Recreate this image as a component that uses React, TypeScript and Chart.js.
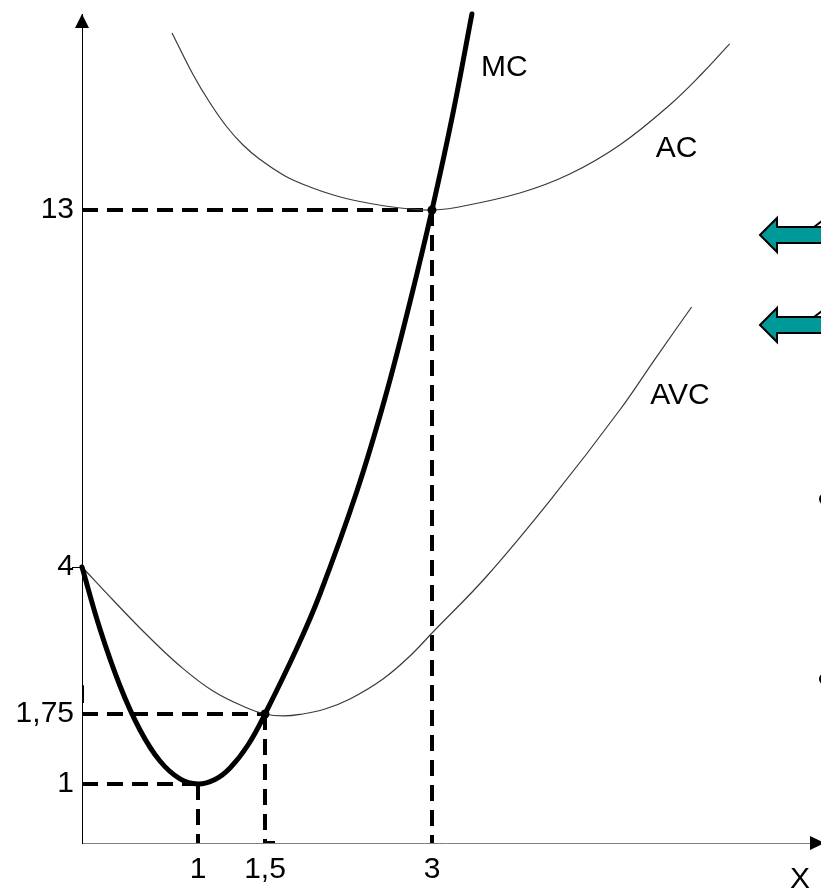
import React, { useEffect, useRef } from 'react';
import { Chart, LinearScale, registerables } from 'chart.js';

// Cost curves: output quantity (x) against cost (y)
const mcX = [0, 0.155, 0.328, 0.5, 0.672, 0.845, 1, 1.127, 1.239, 1.373, 1.5, 1.787, 1.994, 2.326, 2.578, 2.802, 3, 3.189, 3.359];
const mcY = [4, 3.051, 2.179, 1.579, 1.246, 1.054, 1, 1.048, 1.171, 1.418, 1.75, 2.76, 3.587, 5.916, 8.26, 10.68, 13, 15.445, 17.941];

const avcX = [0, 0.267, 0.56, 0.845, 1.112, 1.366, 1.5, 1.662, 1.814, 2.039, 2.263, 2.56, 2.802, 3.009, 3.494, 4.087, 4.689, 5.012, 5.335];
const avcY = [4, 3.495, 2.959, 2.485, 2.102, 1.842, 1.75, 1.729, 1.745, 1.827, 1.98, 2.286, 2.638, 3.005, 3.862, 5.765, 7.958, 9.268, 10.554];

const acX = [0.776, 0.957, 1.09, 1.216, 1.336, 1.463, 1.68, 1.904, 2.129, 2.353, 2.578, 2.802, 3, 3.189, 3.79, 4.239, 4.689, 5.138, 5.434, 5.677];
const acY = [17.462, 16.416, 15.697, 15.092, 14.639, 14.273, 13.857, 13.58, 13.366, 13.214, 13.101, 13.025, 13, 13.05, 13.429, 13.907, 14.639, 15.647, 16.453, 17.185];

// Key points: MC minimum, shutdown point (MC = AVC min), break-even point (MC = AC min)
const mcMin = { x: 1, y: 1 };
const shutdown = { x: 1.5, y: 1.75 };
const breakEven = { x: 3, y: 13 };

// Axis ticks
const xTicks = [1, 1.5, 3];
const xTickLabels = ['1', '1,5', '3'];
const yTicks = [1, 1.75, 4, 13];
const yTickLabels = ['1', '1,75', '4', '13'];

// Curve names and where they sit
const curveNames = ['MC', 'AC', 'AVC'];
const curveNameX = [3.65, 5.2, 5.23];
const curveNameY = [16.58, 14.54, 8.31];

// Axis break points (not drawn to scale): value stops and the length given to each stretch
const xStops = [0, 1, 1.5, 3, 6.4];
const xSpans = [116, 67, 167, 378];
const yStops = [0, 1, 1.75, 4, 13, 17.94];
const ySpans = [59, 70, 147, 357, 196];

function makeBrokenScale(id: string, stops: number[], spans: number[]) {
  const total = spans.reduce((a, b) => a + b, 0);
  const toDecimal = (v: number) => {
    let acc = 0;
    for (let i = 0; i < spans.length; i++) {
      const a = stops[i];
      const b = stops[i + 1];
      if (v <= b || i === spans.length - 1) {
        return (acc + ((v - a) / (b - a)) * spans[i]) / total;
      }
      acc += spans[i];
    }
    return 1;
  };
  const fromDecimal = (d: number) => {
    const len = d * total;
    let acc = 0;
    for (let i = 0; i < spans.length; i++) {
      if (len <= acc + spans[i] || i === spans.length - 1) {
        return stops[i] + ((len - acc) / spans[i]) * (stops[i + 1] - stops[i]);
      }
      acc += spans[i];
    }
    return stops[stops.length - 1];
  };
  class BrokenScale extends LinearScale {
    static id = id;
    static defaults = { ...(LinearScale as any).defaults };
    getPixelForValue(value: number) {
      return (this as any).getPixelForDecimal(toDecimal(value));
    }
    getValueForPixel(pixel: number) {
      return fromDecimal((this as any).getDecimalForPixel(pixel));
    }
  }
  return BrokenScale;
}

Chart.register(...registerables);
Chart.register(makeBrokenScale('brokenX', xStops, xSpans) as any, makeBrokenScale('brokenY', yStops, ySpans) as any);

const FONT = '"Liberation Sans", Arial, Helvetica, sans-serif';
Chart.defaults.font.family = FONT;
Chart.defaults.color = '#000';

const zip = (xs: number[], ys: number[]) => xs.map((x, i) => ({ x, y: ys[i] }));

function tealArrow(ctx: CanvasRenderingContext2D, tipX: number, cy: number) {
  ctx.beginPath();
  ctx.moveTo(tipX, cy);
  ctx.lineTo(tipX + 17, cy - 17);
  ctx.lineTo(tipX + 17, cy - 8);
  ctx.lineTo(tipX + 90, cy - 8);
  ctx.lineTo(tipX + 90, cy + 8);
  ctx.lineTo(tipX + 17, cy + 8);
  ctx.lineTo(tipX + 17, cy + 17);
  ctx.closePath();
  ctx.fillStyle = '#009999';
  ctx.fill();
  ctx.lineWidth = 2;
  ctx.strokeStyle = '#000';
  ctx.stroke();
  ctx.beginPath();
  ctx.moveTo(tipX + 54, cy - 8);
  ctx.lineTo(tipX + 62, cy - 14);
  ctx.stroke();
}

const decorations = {
  id: 'decorations',
  afterDatasetsDraw(chart: any) {
    const { ctx, chartArea, scales } = chart;
    const xs = scales.x;
    const ys = scales.y;
    ctx.save();
    ctx.fillStyle = '#000';
    // arrowheads on both axes
    const ax = xs.getPixelForValue(0);
    ctx.beginPath();
    ctx.moveTo(ax, chartArea.top);
    ctx.lineTo(ax - 7, chartArea.top + 14);
    ctx.lineTo(ax + 7, chartArea.top + 14);
    ctx.closePath();
    ctx.fill();
    const ay = ys.getPixelForValue(0);
    ctx.beginPath();
    ctx.moveTo(chartArea.right + 15, ay);
    ctx.lineTo(chartArea.right, ay - 7);
    ctx.lineTo(chartArea.right, ay + 7);
    ctx.closePath();
    ctx.fill();

    // short tick where MC and AVC start on the cost axis
    const y4 = Math.round(ys.getPixelForValue(4)) + 0.5;
    ctx.strokeStyle = '#000';
    ctx.lineWidth = 1;
    ctx.beginPath();
    ctx.moveTo(ax - 10, y4);
    ctx.lineTo(ax, y4);
    ctx.stroke();

    // curve names
    ctx.font = '30px ' + FONT;
    ctx.textAlign = 'center';
    ctx.textBaseline = 'middle';
    curveNames.forEach((name, i) => {
      ctx.fillText(name, xs.getPixelForValue(curveNameX[i]), ys.getPixelForValue(curveNameY[i]));
    });

    // slide side decorations
    tealArrow(ctx, 760, 235);
    tealArrow(ctx, 760, 325);
    ctx.fillStyle = '#000';
    [499, 679].forEach((by) => {
      ctx.beginPath();
      ctx.arc(825, by, 6, 0, Math.PI * 2);
      ctx.fill();
    });
    ctx.restore();
  },
};

const guideStyle = {
  borderColor: '#000',
  borderWidth: 4,
  borderDash: [16, 9],
  borderCapStyle: 'butt' as const,
  pointRadius: 0,
  tension: 0,
  fill: false,
};

const curveStyle = {
  borderColor: '#3a3a3a',
  borderWidth: 1.2,
  pointRadius: 0,
  tension: 0.4,
  fill: false,
};

export default function App() {
  const canvasRef = useRef<HTMLCanvasElement | null>(null);

  useEffect(() => {
    document.body.style.margin = '0';
    const canvas = canvasRef.current;
    if (!canvas) return;
    const chart = new Chart(canvas, {
      type: 'line',
      data: {
        datasets: [
          {
            data: [shutdown, breakEven],
            showLine: false,
            pointRadius: 4.5,
            pointBackgroundColor: '#000',
            pointBorderColor: '#000',
            pointBorderWidth: 0,
          },
          {
            ...curveStyle,
            data: zip(mcX, mcY),
            borderColor: '#000',
            borderWidth: 5,
            borderCapStyle: 'round',
            clip: false,
          },
          { ...curveStyle, data: zip(avcX, avcY) },
          { ...curveStyle, data: zip(acX, acY) },
          { ...guideStyle, data: [{ x: 0, y: breakEven.y }, { x: breakEven.x, y: breakEven.y }] },
          { ...guideStyle, data: [{ x: breakEven.x, y: breakEven.y }, { x: breakEven.x, y: 0 }] },
          { ...guideStyle, data: [{ x: 0, y: shutdown.y }, { x: shutdown.x, y: shutdown.y }] },
          { ...guideStyle, data: [{ x: shutdown.x, y: shutdown.y }, { x: shutdown.x, y: 0 }, { x: 1.59, y: 0 }] },
          { ...guideStyle, borderDash: [], data: [{ x: 0, y: 1.92 }, { x: 0, y: 2.19 }] },
          { ...guideStyle, data: [{ x: 0, y: mcMin.y }, { x: mcMin.x, y: mcMin.y }] },
          { ...guideStyle, data: [{ x: mcMin.x, y: mcMin.y }, { x: mcMin.x, y: 0 }] },
        ],
      } as any,
      options: {
        responsive: false,
        animation: false,
        devicePixelRatio: 1,
        events: [],
        layout: { padding: { top: 14, right: 11, bottom: 0, left: 0 } },
        plugins: { legend: { display: false }, tooltip: { enabled: false } },
        scales: {
          x: {
            type: 'brokenX',
            min: 0,
            max: 6.4,
            grid: { display: false, drawTicks: false },
            border: { display: true, color: '#808080', width: 1 },
            afterBuildTicks: (s: any) => {
              s.ticks = xTicks.map((v) => ({ value: v }));
            },
            afterFit: (s: any) => {
              s.height = 50;
              s.paddingLeft = 0;
              s.paddingRight = 0;
              s.paddingTop = 0;
              s.paddingBottom = 0;
            },
            ticks: {
              autoSkip: false,
              maxRotation: 0,
              padding: 9,
              color: '#000',
              font: { size: 30 },
              callback: (_v: any, i: number) => xTickLabels[i],
            },
            title: {
              display: true,
              text: 'X',
              align: 'end',
              color: '#000',
              font: { size: 30, lineHeight: 1 },
              padding: { top: 0, bottom: -2 },
            },
          },
          y: {
            type: 'brokenY',
            min: 0,
            max: 17.94,
            grid: { display: false, drawTicks: false },
            border: { display: true, color: '#000', width: 1 },
            afterBuildTicks: (s: any) => {
              s.ticks = yTicks.map((v) => ({ value: v }));
            },
            afterFit: (s: any) => {
              s.width = 82;
              s.paddingLeft = 0;
              s.paddingRight = 0;
              s.paddingTop = 0;
              s.paddingBottom = 0;
            },
            ticks: {
              autoSkip: false,
              padding: 8,
              color: '#000',
              font: { size: 30 },
              callback: (_v: any, i: number) => yTickLabels[i],
            },
          },
        },
      } as any,
      plugins: [decorations],
    });
    return () => chart.destroy();
  }, []);

  return (
    <div style={{ position: 'absolute', left: 0, top: 0, width: 821, height: 893, overflow: 'hidden', background: '#fff' }}>
      <canvas ref={canvasRef} width={821} height={893} />
    </div>
  );
}
